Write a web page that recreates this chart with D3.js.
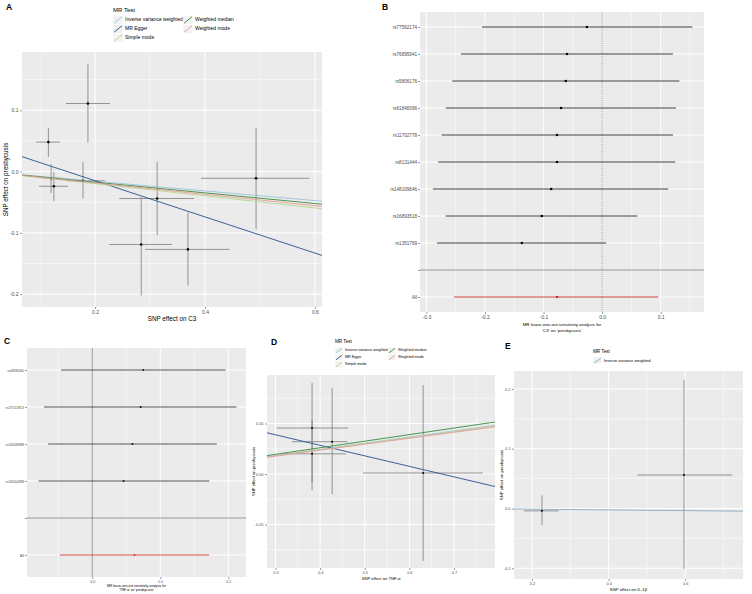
<!DOCTYPE html>
<html><head><meta charset="utf-8">
<script src="https://cdn.jsdelivr.net/npm/d3@7"></script>
<style>body{margin:0;background:#fff} text{font-family:"Liberation Sans",Arial,sans-serif}</style>
</head><body><svg id="c" width="752" height="594"></svg>
<script>
// ---------- DATA ----------
const methods = ["Inverse variance weighted","MR Egger","Simple mode","Weighted median","Weighted mode"];
const methodColors = ["#9cc3dc","#27508f","#b2d98a","#3a8a3a","#e89a98"];

// Panel A: C3 -> presbycusis
const c3X   = [0.115, 0.187, 0.120, 0.125, 0.178, 0.313, 0.284, 0.369, 0.493];
const c3XLo = [0.093, 0.147, 0.105, 0.098, 0.149, 0.244, 0.226, 0.291, 0.393];
const c3XHi = [0.136, 0.227, 0.135, 0.151, 0.218, 0.380, 0.340, 0.445, 0.590];
const c3Y   = [0.048, 0.111, -0.011, -0.024, -0.015, -0.044, -0.119, -0.127, -0.011];
const c3YLo = [0.024, 0.047, -0.035, -0.048, -0.044, -0.104, -0.202, -0.186, -0.094];
const c3YHi = [0.071, 0.176, 0.012, 0.000, 0.016, 0.016, -0.042, -0.067, 0.071];
const c3Slopes     = [-0.079, -0.295, -0.099, -0.087, -0.093];
const c3Intercepts = [0, 0.044, 0, 0, 0];

// Panel B: leave-one-out C3
const c3Snps  = ["rs77562174","rs76895941","rs5806176","rs61848396","rs11702778","rs8131444","rs148109646","rs16893518","rs1351769","","All"];
const c3Loo   = [-0.026, -0.060, -0.062, -0.070, -0.077, -0.077, -0.087, -0.103, -0.137, null, -0.077];
const c3LooLo = [-0.205, -0.241, -0.256, -0.267, -0.274, -0.280, -0.289, -0.267, -0.282, null, -0.253];
const c3LooHi = [0.154, 0.121, 0.132, 0.126, 0.121, 0.125, 0.113, 0.060, 0.007, null, 0.096];

// Panel C: leave-one-out TNF-alpha
const tnfSnps  = ["rs4808240","rs27151813","rs10508488","rs10504288","","All"];
const tnfLoo   = [0.075, 0.071, 0.059, 0.046, null, 0.062];
const tnfLooLo = [-0.046, -0.071, -0.065, -0.079, null, -0.048];
const tnfLooHi = [0.196, 0.212, 0.183, 0.172, null, 0.172];

// Panel D: TNF-alpha -> presbycusis
const tnfX   = [0.382, 0.427, 0.382, 0.631];
const tnfXLo = [0.303, 0.337, 0.317, 0.496];
const tnfXHi = [0.463, 0.461, 0.458, 0.765];
const tnfY   = [0.0455, 0.032, 0.020, 0.001];
const tnfYLo = [-0.016, -0.020, -0.008, -0.086];
const tnfYHi = [0.090, 0.085, 0.053, 0.088];
const tnfSlopes     = [0.061, -0.104, 0.060, 0.065, 0.059];
const tnfIntercepts = [0, 0.070, 0, 0, 0];

// Panel E: IL-1beta -> presbycusis
const il1X   = [0.226, 0.597];
const il1XLo = [0.179, 0.475];
const il1XHi = [0.270, 0.723];
const il1Y   = [-0.004, 0.056];
const il1YLo = [-0.028, -0.101];
const il1YHi = [0.022, 0.215];
const il1Methods = ["Inverse variance weighted"];
const il1Colors  = ["#8aa9c0"];
const il1Slopes = [-0.006];
const il1Intercepts = [0];

// ---------- DRAWING ----------
const svg = d3.select("#c");
const BG = "#ebebeb";
let clipId = 0;

function styleAxis(ax, fs) {
  ax.select(".domain").remove();
  ax.selectAll(".tick line").attr("stroke","#333").attr("stroke-width",0.5);
  ax.selectAll(".tick text").attr("fill","#4d4d4d").attr("font-size",fs).attr("font-family","Liberation Sans, Arial, sans-serif");
}

function gridV(g, xs, vals, y0, y1, w) {
  g.selectAll(null).data(vals).enter().append("line")
    .attr("x1",d=>xs(d)).attr("x2",d=>xs(d)).attr("y1",y0).attr("y2",y1)
    .attr("stroke","#fff").attr("stroke-width",w);
}
function gridH(g, ys, vals, x0, x1, w) {
  g.selectAll(null).data(vals).enter().append("line")
    .attr("y1",d=>ys(d)).attr("y2",d=>ys(d)).attr("x1",x0).attr("x2",x1)
    .attr("stroke","#fff").attr("stroke-width",w);
}

function legend(cfg) {
  const g = svg.append("g");
  g.append("text").attr("x",cfg.x).attr("y",cfg.titleY).attr("font-size",cfg.titleFs)
    .attr("dominant-baseline","middle").attr("fill","#000").text("MR Test");
  cfg.items.forEach((m,i)=>{
    const col = Math.floor(i/3), row = i%3;
    const kx = cfg.x + col*cfg.colGap, ky = cfg.y0 + row*cfg.rowH;
    g.append("rect").attr("x",kx).attr("y",ky-cfg.kh/2).attr("width",cfg.kw).attr("height",cfg.kh)
      .attr("fill","#f2f2f2").attr("stroke","#fff").attr("stroke-width",0.5);
    g.append("line").attr("x1",kx+1).attr("y1",ky+cfg.kh/2-1).attr("x2",kx+cfg.kw-1).attr("y2",ky-cfg.kh/2+1)
      .attr("stroke",cfg.colors[i]).attr("stroke-width",0.9);
    g.append("text").attr("x",kx+cfg.kw+2).attr("y",ky).attr("dominant-baseline","middle")
      .attr("font-size",cfg.fs).attr("fill","#000").text(m);
  });
}

function scatter(cfg) {
  const g = svg.append("g");
  const xs = d3.scaleLinear().domain(cfg.xDom).range([cfg.left,cfg.right]);
  const ys = d3.scaleLinear().domain(cfg.yDom).range([cfg.bottom,cfg.top]);
  g.append("rect").attr("x",cfg.left).attr("y",cfg.top).attr("width",cfg.right-cfg.left)
    .attr("height",cfg.bottom-cfg.top).attr("fill",BG);
  gridV(g, xs, cfg.xMinor, cfg.top, cfg.bottom, 0.5);
  gridH(g, ys, cfg.yMinor, cfg.left, cfg.right, 0.5);
  gridV(g, xs, cfg.xTicks, cfg.top, cfg.bottom, 1);
  gridH(g, ys, cfg.yTicks, cfg.left, cfg.right, 1);
  const id = "clip"+(clipId++);
  g.append("clipPath").attr("id",id).append("rect").attr("x",cfg.left).attr("y",cfg.top)
    .attr("width",cfg.right-cfg.left).attr("height",cfg.bottom-cfg.top);
  const pg = g.append("g").attr("clip-path",`url(#${id})`);
  const idx = d3.range(cfg.x.length);
  pg.selectAll(null).data(idx).enter().append("line")
    .attr("x1",i=>xs(cfg.x[i])).attr("x2",i=>xs(cfg.x[i]))
    .attr("y1",i=>ys(cfg.yLo[i])).attr("y2",i=>ys(cfg.yHi[i]))
    .attr("stroke","#767676").attr("stroke-width",0.75);
  pg.selectAll(null).data(idx).enter().append("line")
    .attr("y1",i=>ys(cfg.y[i])).attr("y2",i=>ys(cfg.y[i]))
    .attr("x1",i=>xs(cfg.xLo[i])).attr("x2",i=>xs(cfg.xHi[i]))
    .attr("stroke","#767676").attr("stroke-width",0.75);
  pg.selectAll(null).data(idx).enter().append("circle")
    .attr("cx",i=>xs(cfg.x[i])).attr("cy",i=>ys(cfg.y[i])).attr("r",cfg.pr||1.3).attr("fill","#000");
  const [xa,xb] = cfg.xDom;
  pg.selectAll(null).data(cfg.slopes.map((s,i)=>i)).enter().append("line")
    .attr("x1",xs(xa)).attr("x2",xs(xb))
    .attr("y1",i=>ys(cfg.intercepts[i]+cfg.slopes[i]*xa))
    .attr("y2",i=>ys(cfg.intercepts[i]+cfg.slopes[i]*xb))
    .attr("stroke",i=>cfg.colors[i]).attr("stroke-width",cfg.lw||0.9);
  const ax = g.append("g").attr("transform",`translate(0,${cfg.bottom})`)
    .call(d3.axisBottom(xs).tickValues(cfg.xTicks).tickSize(2).tickPadding(1.5).tickFormat(d=>d.toFixed(cfg.xDec)));
  styleAxis(ax, cfg.tickFs);
  const ay = g.append("g").attr("transform",`translate(${cfg.left},0)`)
    .call(d3.axisLeft(ys).tickValues(cfg.yTicks).tickSize(2).tickPadding(1.5).tickFormat(d=>d.toFixed(cfg.yDec)));
  styleAxis(ay, cfg.tickFs);
  g.append("text").attr("x",(cfg.left+cfg.right)/2).attr("y",cfg.xTitleY).attr("text-anchor","middle")
    .attr("dominant-baseline","middle").attr("font-size",cfg.titleFs).text(cfg.xTitle);
  g.append("text").attr("transform",`translate(${cfg.yTitleX},${(cfg.top+cfg.bottom)/2}) rotate(-90)`)
    .attr("text-anchor","middle").attr("dominant-baseline","middle").attr("font-size",cfg.titleFs).text(cfg.yTitle);
}

function forest(cfg) {
  const g = svg.append("g");
  const xs = d3.scaleLinear().domain(cfg.xDom).range([cfg.left,cfg.right]);
  const ys = d3.scalePoint().domain(cfg.labels).range([cfg.row0,cfg.rowN]);
  g.append("rect").attr("x",cfg.left).attr("y",cfg.top).attr("width",cfg.right-cfg.left)
    .attr("height",cfg.bottom-cfg.top).attr("fill",BG);
  gridV(g, xs, cfg.xMinor, cfg.top, cfg.bottom, 0.5);
  gridV(g, xs, cfg.xTicks, cfg.top, cfg.bottom, 1);
  g.selectAll(null).data(cfg.labels).enter().append("line")
    .attr("x1",cfg.left).attr("x2",cfg.right).attr("y1",d=>ys(d)).attr("y2",d=>ys(d))
    .attr("stroke","#fff").attr("stroke-width",1);
  // separator
  g.append("line").attr("x1",cfg.left).attr("x2",cfg.right).attr("y1",ys("")).attr("y2",ys(""))
    .attr("stroke","#666").attr("stroke-width",0.7);
  // zero line
  g.append("line").attr("x1",xs(0)).attr("x2",xs(0)).attr("y1",cfg.top).attr("y2",cfg.bottom)
    .attr("stroke","#555").attr("stroke-width",0.6).attr("stroke-dasharray",cfg.dash);
  const idx = d3.range(cfg.labels.length).filter(i=>cfg.b[i]!==null);
  g.selectAll(null).data(idx).enter().append("line")
    .attr("x1",i=>xs(cfg.lo[i])).attr("x2",i=>xs(cfg.hi[i]))
    .attr("y1",i=>ys(cfg.labels[i])).attr("y2",i=>ys(cfg.labels[i]))
    .attr("stroke",i=>cfg.labels[i]==="All"?"#c62a22":"#2a2a2a").attr("stroke-width",cfg.lw);
  g.selectAll(null).data(idx).enter().append("rect")
    .attr("x",i=>xs(cfg.b[i])-cfg.ps/2).attr("y",i=>ys(cfg.labels[i])-cfg.ps/2)
    .attr("width",cfg.ps).attr("height",cfg.ps)
    .attr("fill",i=>cfg.labels[i]==="All"?"#c62a22":"#000");
  const ax = g.append("g").attr("transform",`translate(0,${cfg.bottom})`)
    .call(d3.axisBottom(xs).tickValues(cfg.xTicks).tickSize(2).tickPadding(1.5).tickFormat(d=>d.toFixed(1)));
  styleAxis(ax, cfg.tickFs);
  const ay = g.append("g").attr("transform",`translate(${cfg.left},0)`)
    .call(d3.axisLeft(ys).tickSize(2).tickPadding(1));
  styleAxis(ay, cfg.yFs);
  cfg.xTitle.forEach((t,i)=>{
    g.append("text").attr("x",(cfg.left+cfg.right)/2).attr("y",cfg.xTitleY+i*cfg.titleLH)
      .attr("text-anchor","middle").attr("dominant-baseline","middle")
      .attr("font-size",cfg.titleFs).text(t);
  });
}

function panelLabel(t,x,y,fs){
  svg.append("text").attr("x",x).attr("y",y).attr("font-size",fs).attr("font-weight","bold")
    .attr("dominant-baseline","middle").text(t);
}

// Panel A
scatter({xDom:[0.067,0.613], yDom:[-0.221,0.195], left:22, right:322, top:52, bottom:307,
  xTicks:[0.2,0.4,0.6], xMinor:[0.1,0.3,0.5], yTicks:[-0.2,-0.1,0,0.1], yMinor:[-0.15,-0.05,0.05,0.15],
  xDec:1, yDec:1, tickFs:5, titleFs:6.3, xTitle:"SNP effect on C3", yTitle:"SNP effect on presbycusis",
  xTitleY:319, yTitleX:6,
  x:c3X, xLo:c3XLo, xHi:c3XHi, y:c3Y, yLo:c3YLo, yHi:c3YHi,
  slopes:c3Slopes, intercepts:c3Intercepts, colors:methodColors, pr:1.3, lw:0.9});
legend({x:113, titleY:10, y0:20, rowH:9, kw:10, kh:8.5, colGap:70, titleFs:6, fs:5, items:methods, colors:methodColors});
panelLabel("A",6,8,8.5);

// Panel B
forest({labels:c3Snps, b:c3Loo, lo:c3LooLo, hi:c3LooHi, xDom:[-0.311,0.174],
  left:420, right:704, top:12, bottom:312, row0:27, rowN:297,
  xTicks:[-0.3,-0.2,-0.1,0,0.1], xMinor:[-0.25,-0.15,-0.05,0.05,0.15],
  tickFs:5, yFs:4.6, ps:2.2, lw:0.9, dash:"1.2,1",
  xTitle:["MR leave-one-out sensitivity analysis for","'C3' on 'presbycusis'"], xTitleY:325, titleLH:5.5, titleFs:4.4});
panelLabel("B",382,8,8.5);

// Panel C
forest({labels:tnfSnps, b:tnfLoo, lo:tnfLooLo, hi:tnfLooHi, xDom:[-0.096,0.226],
  left:27, right:246, top:348, bottom:577, row0:370, rowN:555,
  xTicks:[0,0.1,0.2], xMinor:[-0.05,0.05,0.15],
  tickFs:3.6, yFs:3.5, ps:1.6, lw:0.8, dash:null,
  xTitle:["MR leave-one-out sensitivity analysis for","'TNF-α' on 'presbycusis'"], xTitleY:586, titleLH:3.8, titleFs:3.3});
panelLabel("C",4,342,8.5);

// Panel D
scatter({xDom:[0.281,0.792], yDom:[-0.093,0.098], left:267, right:495, top:375, bottom:568,
  xTicks:[0.3,0.4,0.5,0.6,0.7], xMinor:[0.35,0.45,0.55,0.65,0.75], yTicks:[-0.05,0,0.05], yMinor:[-0.075,-0.025,0.025,0.075],
  xDec:1, yDec:2, tickFs:3.9, titleFs:4.2, xTitle:"SNP effect on TNF-α", yTitle:"SNP effect on presbycusis",
  xTitleY:578.5, yTitleX:253.5,
  x:tnfX, xLo:tnfXLo, xHi:tnfXHi, y:tnfY, yLo:tnfYLo, yHi:tnfYHi,
  slopes:tnfSlopes, intercepts:tnfIntercepts, colors:methodColors, pr:1, lw:0.9});
legend({x:335, titleY:342, y0:350.5, rowH:7, kw:8, kh:6.5, colGap:53, titleFs:4.6, fs:3.7, items:methods, colors:methodColors});
panelLabel("D",271,343,8.5);

// Panel E
scatter({xDom:[0.153,0.751], yDom:[-0.118,0.230], left:514, right:743, top:371, bottom:579,
  xTicks:[0.2,0.4,0.6], xMinor:[0.3,0.5,0.7], yTicks:[-0.1,0,0.1,0.2], yMinor:[-0.05,0.05,0.15],
  xDec:1, yDec:1, tickFs:3.9, titleFs:4.3, xTitle:"SNP effect on IL-1β", yTitle:"SNP effect on presbycusis",
  xTitleY:590, yTitleX:502,
  x:il1X, xLo:il1XLo, xHi:il1XHi, y:il1Y, yLo:il1YLo, yHi:il1YHi,
  slopes:il1Slopes, intercepts:il1Intercepts, colors:il1Colors, pr:1, lw:0.9});
legend({x:593, titleY:352, y0:360.5, rowH:7, kw:9, kh:7, colGap:60, titleFs:4.6, fs:4, items:il1Methods, colors:il1Colors});
panelLabel("E",505,347,8.5);
</script></body></html>
